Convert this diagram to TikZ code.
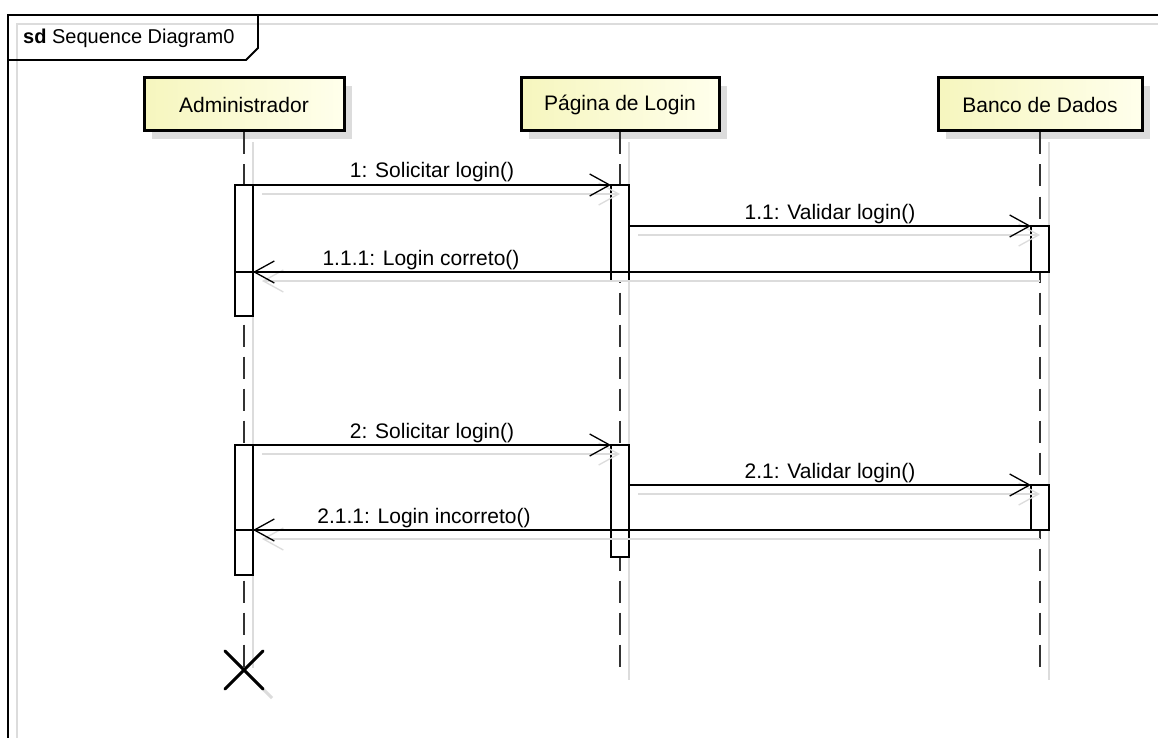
\documentclass[tikz,border=0pt]{standalone}
\usepackage{fontspec}
\setmainfont{Liberation Sans}
\usetikzlibrary{arrows.meta,calc}
\definecolor{shd}{RGB}{220,220,220}
\definecolor{headL}{RGB}{246,246,190}
\definecolor{headR}{RGB}{255,255,236}
\begin{document}
\begin{tikzpicture}[x=1pt,y=-1pt,
  head/.style={draw=black, line width=3pt, left color=headL, right color=headR,
    minimum height=53pt, inner sep=0pt, font=\fontsize{21}{24}\selectfont},
  headshadow/.style={fill=shd, draw=none, minimum height=53pt, inner sep=0pt},
  bar/.style={draw=black, fill=white, line width=1.3pt, minimum width=18pt,
    inner sep=0pt, outer sep=0pt, anchor=north},
  life/.style={draw=black!80, line width=1.8pt, dash pattern=on 22pt off 10pt},
  lifeshadow/.style={draw=shd, line width=1.5pt},
  msg/.style={draw=black, line width=1.3pt,
    -{Straight Barb[length=20pt,width=22pt,line width=1.3pt]}},
  msgshadow/.style={draw=shd, line width=1.3pt,
    -{Straight Barb[length=20pt,width=22pt,line width=1.3pt]},
    transform canvas={shift={(9pt,-9pt)}}},
  plain/.style={draw=black, line width=1.3pt},
  lbl/.style={anchor=base, font=\fontsize{21}{24}\selectfont, inner sep=0pt},
]
\useasboundingbox (0,0) rectangle (1158,738);
\fill[white] (0,0) rectangle (1158,738);

% frame
\draw[shd, line width=1.5pt] (17,738) -- (17,24) -- (1158,24);
\draw[black, line width=2pt] (8,738) -- (8,15) -- (1158,15);
\draw[black, line width=1.8pt] (8,60) -- (246,60) -- (258,48) -- (258,15);
\node[anchor=base west, font=\fontsize{20}{24}\selectfont, inner sep=0pt] (title) at (23,44) {\textbf{sd} Sequence Diagram0};

% head shadows
\node[headshadow, minimum width=200pt] (admS) at (252,112.5) {};
\node[headshadow, minimum width=198pt] (pagS) at (628,112.5) {};
\node[headshadow, minimum width=204pt] (banS) at (1048,112.5) {};

% heads
\node[head, minimum width=200pt] (adm) at (244,104.5) {Administrador};
\node[head, minimum width=198pt] (pag) at (620,104.5) {Página de Login};
\node[head, minimum width=204pt] (ban) at (1040,104.5) {Banco de Dados};

% end points of lifelines
\coordinate (admEnd) at (244,668);
\coordinate (pagEnd) at (620,670);
\coordinate (banEnd) at (1040,670);

% lifeline shadows
\draw[lifeshadow] ([shift={(9,10)}]adm.south) -- ([shift={(9,0)}]admEnd);
\draw[lifeshadow] ([shift={(9,10)}]pag.south) -- ([shift={(9,10)}]pagEnd);
\draw[lifeshadow] ([shift={(9,10)}]ban.south) -- ([shift={(9,10)}]banEnd);

% lifelines
\draw[life] (adm.south) -- (admEnd);
\draw[life] (pag.south) -- (pagEnd);
\draw[life] (ban.south) -- (banEnd);

% destruction
\coordinate (xd) at (244,670);
\draw[shd, line width=3pt] ([shift={(-10,-10)}]xd) -- ([shift={(28,28)}]xd);
\draw[black, line width=3pt, line cap=round] ([shift={(-19,-19)}]xd) -- ([shift={(19,19)}]xd)
  ([shift={(-19,19)}]xd) -- ([shift={(19,-19)}]xd);

% activation bars
\node[bar, minimum height=131pt] (a1) at (244,185) {};
\node[bar, minimum height=96pt]  (p1) at (620,185) {};
\node[bar, minimum height=46pt]  (b1) at (1040,226) {};
\node[bar, minimum height=130pt] (a2) at (244,445) {};
\node[bar, minimum height=112pt] (p2) at (620,445) {};
\node[bar, minimum height=45pt]  (b2) at (1040,485) {};

% message shadows
\draw[msgshadow] (a1.north east) -- (p1.north west);
\draw[msgshadow] (p1.east |- b1.north) -- (b1.north west);
\draw[msgshadow] (b1.south west) -- (a1.east |- b1.south);
\draw[msgshadow] (a2.north east) -- (p2.north west);
\draw[msgshadow] (p2.east |- b2.north) -- (b2.north west);
\draw[msgshadow] (b2.south west) -- (a2.east |- b2.south);

% messages
\draw[msg] (a1.north east) -- (p1.north west);
\draw[msg] (p1.east |- b1.north) -- (b1.north west);
\draw[plain] (b1.south west) -- (a1.west |- b1.south);
\draw[msg] (b1.south west) -- (a1.east |- b1.south);
\draw[msg] (a2.north east) -- (p2.north west);
\draw[msg] (p2.east |- b2.north) -- (b2.north west);
\draw[plain] (b2.south west) -- (a2.west |- b2.south);
\draw[msg] (b2.south west) -- (a2.east |- b2.south);

% labels
\node[lbl] (l1)   at (432,178) {1: Solicitar login()};
\node[lbl] (l11)  at (830,219) {1.1: Validar login()};
\node[lbl] (l111) at (421,265) {1.1.1: Login correto()};
\node[lbl] (l2)   at (432,438) {2: Solicitar login()};
\node[lbl] (l21)  at (830,478) {2.1: Validar login()};
\node[lbl] (l211) at (424,523) {2.1.1: Login incorreto()};
\end{tikzpicture}
\end{document}
